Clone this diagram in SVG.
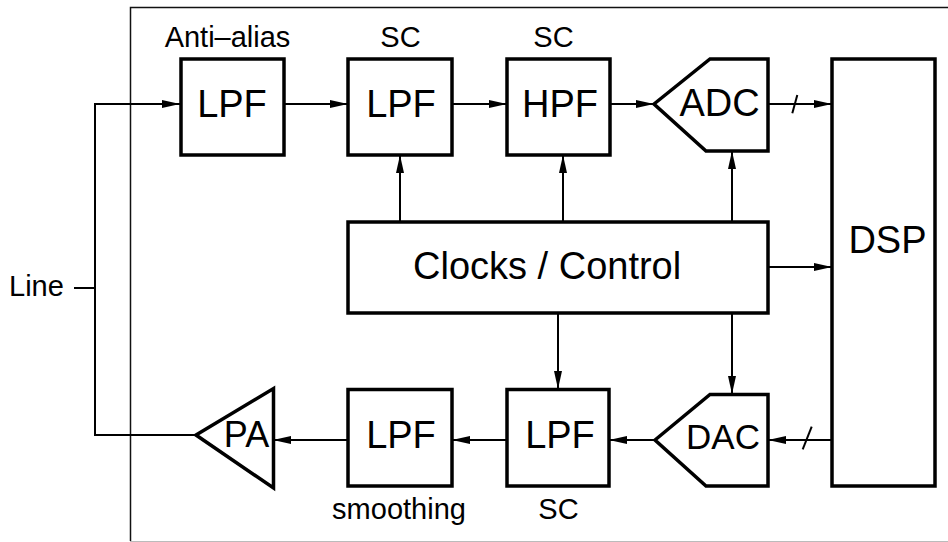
<svg xmlns="http://www.w3.org/2000/svg" width="948" height="542" viewBox="0 0 948 542">
<style>
.box{fill:#fff;stroke:#000;stroke-width:3.5;stroke-linejoin:miter}
.frame{fill:none;stroke:#111;stroke-width:1.5}
.w{fill:none;stroke:#000;stroke-width:2}
.t{font-family:"Liberation Sans",Arial,sans-serif;fill:#000}
.big{font-size:38px}
.lab{font-size:29px}
</style>
<defs>
<marker id="ah" markerUnits="userSpaceOnUse" markerWidth="18" markerHeight="8" refX="18" refY="4" orient="auto" viewBox="0 0 18 8">
<path d="M0,0 L18,4 L0,8 Z" fill="#000"/>
</marker>
</defs>
<rect width="948" height="542" fill="#fff"/>
<path class="frame" d="M948,7.5 H130.5 V541"/>
<path d="M130,541.5 H948" fill="none" stroke="#bbb" stroke-width="1"/>

<g id="connectors">
<path class="w" d="M74,288 H95"/>
<path class="w" d="M196,435 H95 V104 H180" marker-end="url(#ah)"/>
<path class="w" d="M284,104 H348" marker-end="url(#ah)"/>
<path class="w" d="M452,104 H507" marker-end="url(#ah)"/>
<path class="w" d="M610,104 H654" marker-end="url(#ah)"/>
<path class="w" d="M768,104 H832" marker-end="url(#ah)"/>
<path class="w" stroke-width="2.5" d="M792.3,113.3 L797.3,95"/>
<path class="w" d="M400,222 V155" marker-end="url(#ah)"/>
<path class="w" d="M563,222 V155" marker-end="url(#ah)"/>
<path class="w" d="M732,222 V151" marker-end="url(#ah)"/>
<path class="w" d="M768,267 H832" marker-end="url(#ah)"/>
<path class="w" d="M558,313 V389" marker-end="url(#ah)"/>
<path class="w" d="M732,313 V394" marker-end="url(#ah)"/>
<path class="w" d="M832,440 H768" marker-end="url(#ah)"/>
<path class="w" stroke-width="2.5" d="M802.7,449.3 L811.7,426.7"/>
<path class="w" d="M655,440 H609" marker-end="url(#ah)"/>
<path class="w" d="M507,440 H452" marker-end="url(#ah)"/>
<path class="w" d="M348,440 H273" marker-end="url(#ah)"/>
</g>

<g id="line-label"><text class="t lab" x="9" y="296">Line</text></g>

<g id="lpf-aa">
<rect class="box" x="181" y="59" width="103" height="96"/>
<text class="t big" x="232" y="117" text-anchor="middle">LPF</text>
<text class="t lab" x="227.5" y="47" text-anchor="middle">Anti–alias</text>
</g>

<g id="lpf-sc">
<rect class="box" x="348" y="59" width="104" height="96"/>
<text class="t big" x="401" y="117" text-anchor="middle">LPF</text>
<text class="t lab" x="400.5" y="47" text-anchor="middle">SC</text>
</g>

<g id="hpf-sc">
<rect class="box" x="507" y="59" width="103" height="96"/>
<text class="t big" x="560" y="117" text-anchor="middle">HPF</text>
<text class="t lab" x="553.5" y="47" text-anchor="middle">SC</text>
</g>

<g id="adc">
<path class="box" d="M654,104 L710,59 H768 V151 H706 Z"/>
<text class="t big" x="719.5" y="116" text-anchor="middle">ADC</text>
</g>

<g id="dsp">
<rect class="box" x="832" y="59" width="103" height="427"/>
<text class="t big" x="887.5" y="253" text-anchor="middle">DSP</text>
</g>

<g id="clocks">
<rect class="box" x="348" y="222" width="420" height="91"/>
<text class="t big" x="413" y="279">Clocks / Control</text>
</g>

<g id="dac">
<path class="box" d="M655,440 L710,394.5 H768 V486 H706 Z"/>
<text class="t" font-size="35" x="723" y="448.5" text-anchor="middle">DAC</text>
</g>

<g id="lpf-sc-low">
<rect class="box" x="507" y="389.5" width="102" height="96.5"/>
<text class="t big" x="560" y="448" text-anchor="middle">LPF</text>
<text class="t lab" x="558.5" y="519" text-anchor="middle">SC</text>
</g>

<g id="lpf-smooth">
<rect class="box" x="348" y="389.5" width="104" height="96.5"/>
<text class="t big" x="401" y="448" text-anchor="middle">LPF</text>
<text class="t lab" x="399" y="519" text-anchor="middle">smoothing</text>
</g>

<g id="pa">
<path class="box" d="M196,435 L273.5,388.5 V488 Z"/>
<text class="t" font-size="36" x="246.5" y="447" text-anchor="middle">PA</text>
</g>
</svg>
